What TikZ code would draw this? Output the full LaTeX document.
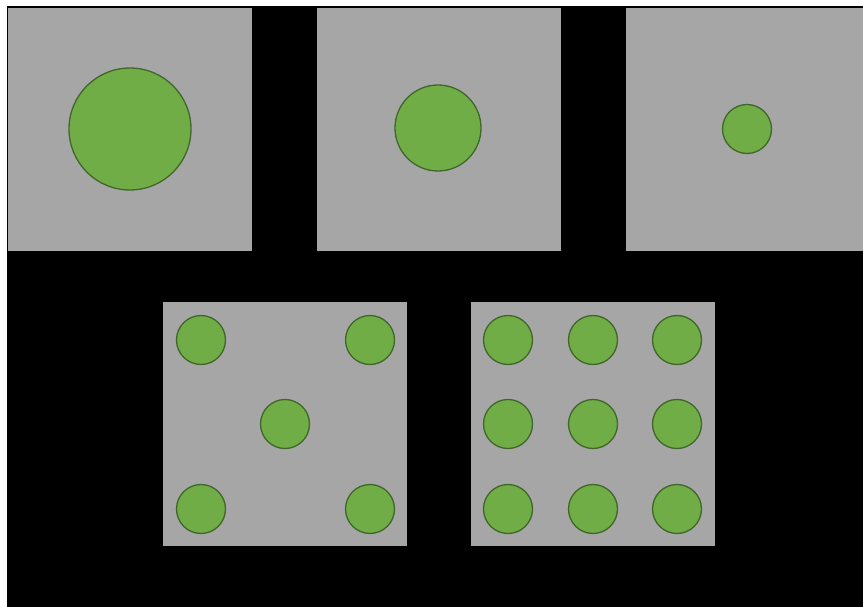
\documentclass[tikz,border=0pt]{standalone}
\begin{document}
\begin{tikzpicture}[x=1pt,y=-1pt,
  dot/.style={circle,fill=dotgreen,draw=dotedge,line width=1.3pt,inner sep=0pt}]
\definecolor{panelgray}{HTML}{A6A6A6}
\definecolor{dotgreen}{HTML}{70AD47}
\definecolor{dotedge}{HTML}{41662A}
\useasboundingbox (0,0) rectangle (863,607);
\fill[white] (0,0) rectangle (863,607);
\fill[black] (7,6) rectangle (863,607);
% top row panels
\fill[panelgray] (8,8) rectangle (252,251);
\fill[panelgray] (317,8) rectangle (561,251);
\fill[panelgray] (626,8) rectangle (863,251);
% bottom row panels
\fill[panelgray] (163,302) rectangle (407,546);
\fill[panelgray] (471,302) rectangle (715,546);
% top row circles
\node[dot,minimum size=122pt] (c1) at (130,129) {};
\node[dot,minimum size=86pt] (c2) at (438,128) {};
\node[dot,minimum size=49pt] (c3) at (747,129) {};
% bottom-left dice five
\foreach \x/\y/\n in {201/340/a1,370/340/a2,285/424/a3,201/509/a4,370/509/a5}
  \node[dot,minimum size=49pt] (\n) at (\x,\y) {};
% bottom-right grid nine
\foreach \x/\i in {508/1,593/2,677/3}
  \foreach \y/\j in {340/1,424/2,509/3}
    \node[dot,minimum size=49pt] (b\i\j) at (\x,\y) {};
\end{tikzpicture}
\end{document}
